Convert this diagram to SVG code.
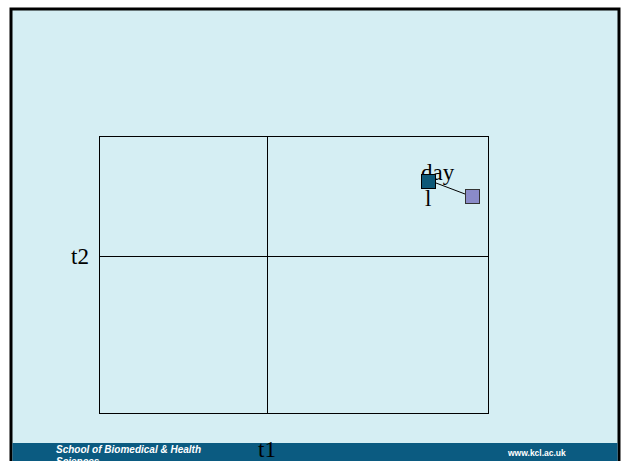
<svg xmlns="http://www.w3.org/2000/svg" width="621" height="461" viewBox="0 0 621 461">
<style>
.serif{font-family:"Liberation Serif","Times New Roman",serif;fill:#000;font-size:23px}
.grid{fill:none;stroke:#000;stroke-width:1}
.foot{font-family:"Liberation Sans",Arial,sans-serif;font-weight:bold;fill:#fff}
</style>
<rect x="0" y="0" width="621" height="461" fill="#fff"/>
<rect x="11" y="9" width="608" height="460" fill="#d5eef3" stroke="#000" stroke-width="3"/>
<rect x="12.5" y="443" width="605" height="18" fill="#0b5b81"/>
<g id="grid">
<rect class="grid" x="99.5" y="136.5" width="389" height="277"/>
<line class="grid" x1="267.5" y1="136.5" x2="267.5" y2="413.5"/>
<line class="grid" x1="99.5" y1="256.5" x2="488.5" y2="256.5"/>
</g>
<text class="serif" x="71" y="264">t2</text>
<text class="serif" x="258" y="457">t1</text>
<g id="connectors">
<line x1="436" y1="183" x2="465" y2="194" stroke="#000" stroke-width="1"/>
</g>
<text class="serif" x="421" y="180">day</text>
<text class="serif" x="425" y="206">l</text>
<g id="node-a"><rect x="421.5" y="174.5" width="14" height="14" fill="#0d5877" stroke="#000" stroke-width="1"/></g>
<g id="node-b"><rect x="465.5" y="189.5" width="14" height="14" fill="#8a8bc8" stroke="#333" stroke-width="1"/></g>
<text class="foot" x="56" y="453" font-size="10" font-style="italic">School of Biomedical &amp; Health</text>
<text class="foot" x="56" y="465" font-size="10" font-style="italic">Sciences</text>
<text class="foot" x="508" y="456" font-size="8.5">www.kcl.ac.uk</text>
</svg>
